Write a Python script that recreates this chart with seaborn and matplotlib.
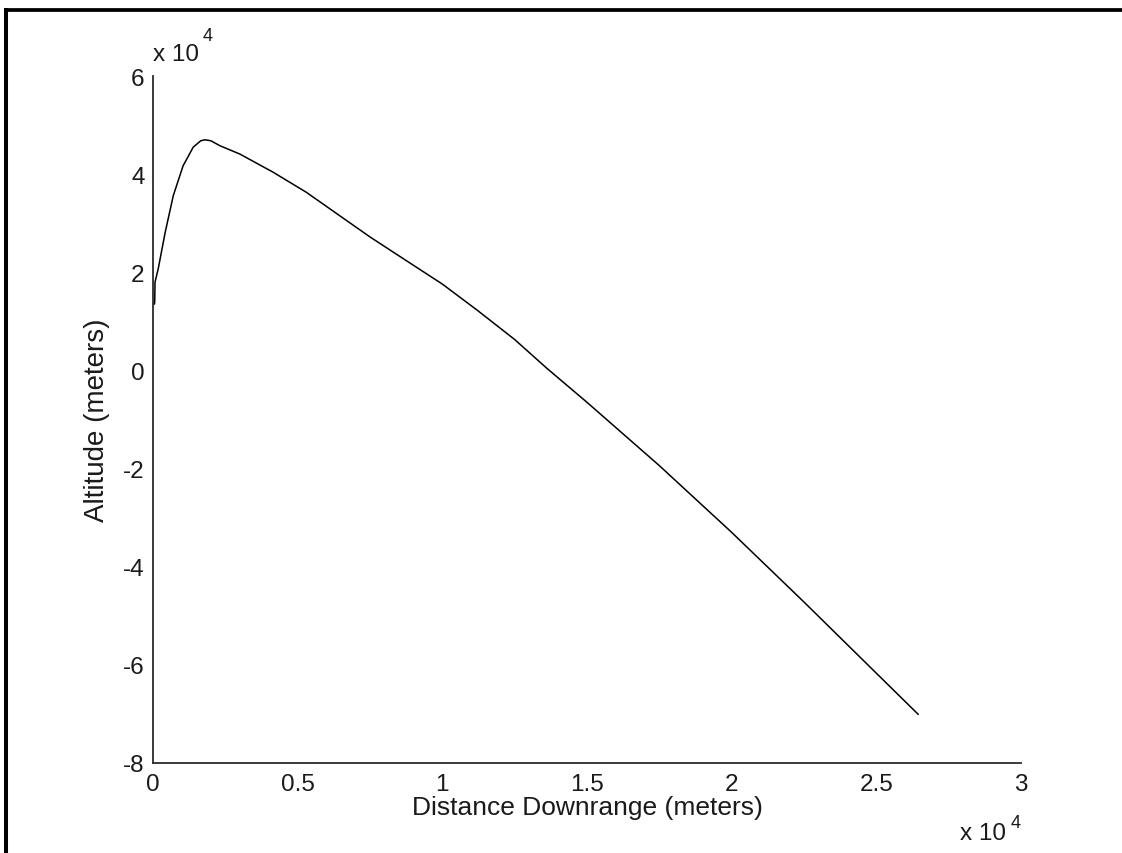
import matplotlib
matplotlib.use("Agg")
import matplotlib.pyplot as plt
from matplotlib.lines import Line2D
from matplotlib.ticker import FuncFormatter
import seaborn as sns
import pandas as pd

# Trajectory: downrange distance and altitude, in meters
distance_m = [50, 60, 70, 180, 420, 700, 1040, 1390, 1650, 1800, 2000, 2310,
              3000, 4150, 5300, 6460, 7500, 8800, 10000, 11200, 12500, 13600,
              15000, 17500, 20000, 22500, 25000, 26450]
altitude_m = [13500, 14200, 18000, 20700, 28100, 35600, 41700, 45500, 46800,
              47000, 46800, 45800, 44100, 40400, 36300, 31500, 27200, 22200,
              17600, 12300, 6300, 500, -6500, -19400, -33000, -47200, -61700,
              -70100]

x_ticks = [0, 5000, 10000, 15000, 20000, 25000, 30000]
y_ticks = [-80000, -60000, -40000, -20000, 0, 20000, 40000, 60000]

sns.set_style("white")
plt.rcParams["font.family"] = ["Liberation Sans", "DejaVu Sans"]

df = pd.DataFrame({"distance": distance_m, "altitude": altitude_m})

fig = plt.figure(figsize=(11.22, 8.54), dpi=100)
ax = fig.add_axes([153 / 1122, 90 / 854, 868 / 1122, 687 / 854])

sns.lineplot(data=df, x="distance", y="altitude", sort=False, estimator=None,
             color="black", linewidth=1.1, ax=ax)

ax.set_xlim(0, 30000)
ax.set_ylim(-80000, 60000)
ax.set_xticks(x_ticks)
ax.set_yticks(y_ticks)


def scaled(v, pos):
    # tick labels are shown in units of 10^4 m
    return f"{v / 1e4:g}"


ax.xaxis.set_major_formatter(FuncFormatter(scaled))
ax.yaxis.set_major_formatter(FuncFormatter(scaled))

axis_color = "#2b2b2b"
text_color = "#1a1a1a"
for side in ("top", "right"):
    ax.spines[side].set_visible(False)
for side in ("left", "bottom"):
    ax.spines[side].set_color(axis_color)
    ax.spines[side].set_linewidth(1.3)

ax.tick_params(axis="both", direction="in", length=7, width=1.3,
               color=axis_color, labelsize=17.5, labelcolor=text_color)
ax.tick_params(axis="x", pad=7)
ax.tick_params(axis="y", pad=6)

ax.set_xlabel("Distance Downrange (meters)", fontsize=19, color=text_color)
ax.set_ylabel("Altitude (meters)", fontsize=20, color=text_color)
ax.xaxis.set_label_coords(0.5, -0.046)
ax.yaxis.set_label_coords(-0.049, 0.5)

# Exponent markers for both axes
ax.text(0.0, 1.016, "x 10", transform=ax.transAxes, fontsize=17.5,
        ha="left", va="bottom", color=text_color)
ax.text(0.057, 1.047, "4", transform=ax.transAxes, fontsize=13,
        ha="left", va="bottom", color=text_color)
ax.text(0.9297, -0.0859, "x 10", transform=ax.transAxes, fontsize=17.5,
        ha="left", va="top", color=text_color)
ax.text(0.9885, -0.0742, "4", transform=ax.transAxes, fontsize=13,
        ha="left", va="top", color=text_color)

# Heavy frame along the top and left edges
fig.add_artist(Line2D([4 / 1122, 1.0], [1 - 10.8 / 854, 1 - 10.8 / 854],
                      transform=fig.transFigure, color="black", linewidth=2.7,
                      solid_capstyle="butt"))
fig.add_artist(Line2D([6 / 1122, 6 / 1122], [0.0, 1 - 9 / 854],
                      transform=fig.transFigure, color="black", linewidth=2.9,
                      solid_capstyle="butt"))

fig.savefig("out.png", dpi=100, facecolor="white")
